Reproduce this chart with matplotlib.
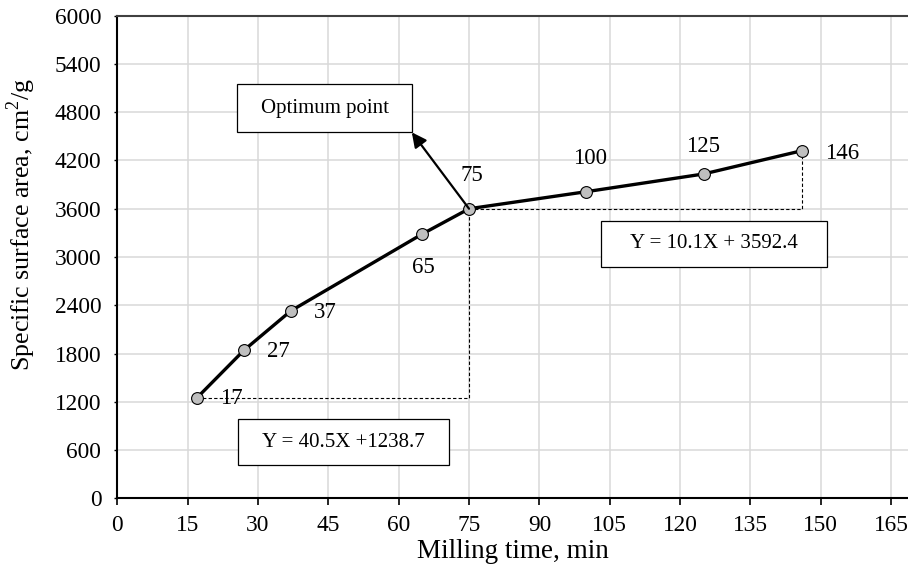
import matplotlib
matplotlib.use("Agg")
import matplotlib.pyplot as plt
from matplotlib.patches import Rectangle

plt.rcParams['font.family'] = ['Liberation Serif', 'DejaVu Serif']

# Data
milling_time = [17, 27, 37, 65, 75, 100, 125, 146]
surface_area = [1250, 1840, 2330, 3285, 3600, 3812, 4032, 4322]
point_labels = ["17", "27", "37", "65", "75", "100", "125", "146"]
label_pos = [(24.4, 1235), (34.3, 1823), (44.3, 2305), (65.2, 2868),
             (75.6, 4012), (100.8, 4229), (125.0, 4373), (154.5, 4291)]

x_ticks = list(range(0, 166, 15))
y_ticks = list(range(0, 6001, 600))

eq1_text = "Y = 40.5X +1238.7"
eq2_text = "Y = 10.1X + 3592.4"
opt_text = "Optimum point"

fig = plt.figure(figsize=(9.08, 5.74), dpi=100)
ax = fig.add_axes([117.3 / 908, 1 - 498.3 / 574, 1 - 117.3 / 908, (498.3 - 15.7) / 574])

ax.set_xlim(0, 168.6)
ax.set_ylim(0, 6000)
ax.set_xticks(x_ticks)
ax.set_yticks(y_ticks)
ax.grid(True, color='#d9d9d9', linewidth=1.1, zorder=0)
ax.set_axisbelow(True)

for s in ['left', 'bottom']:
    ax.spines[s].set_color('black')
    ax.spines[s].set_linewidth(1.5)
ax.spines['right'].set_visible(False)
ax.spines['top'].set_color('#404040')
ax.spines['top'].set_linewidth(1.5)

ax.tick_params(axis='both', direction='out', labelsize=16.8)
ax.tick_params(axis='x', length=5, width=1.2, pad=7)
ax.tick_params(axis='y', length=2.5, width=1.0, pad=9)

# dashed guide lines
opt_i = milling_time.index(75)
ax.plot([milling_time[0], milling_time[opt_i], milling_time[opt_i]],
        [surface_area[0], surface_area[0], surface_area[opt_i]],
        color='black', linestyle=(0, (3, 2)), linewidth=0.8, zorder=2)
ax.plot([milling_time[opt_i], milling_time[-1], milling_time[-1]],
        [surface_area[opt_i], surface_area[opt_i], surface_area[-1]],
        color='black', linestyle=(0, (3, 2)), linewidth=0.8, zorder=2)

ax.plot(milling_time, surface_area, color='black', linewidth=2.4, marker='o',
        markersize=8.5, markerfacecolor='#bfbfbf', markeredgecolor='black',
        markeredgewidth=0.8, zorder=3)

for lab, (lx, ly) in zip(point_labels, label_pos):
    ax.text(lx, ly, lab, fontsize=16.5, ha='center', va='center', zorder=4)

# boxes
def box(x0, x1, y0, y1, text, fs):
    ax.add_patch(Rectangle((x0, y0), x1 - x0, y1 - y0, facecolor='white',
                           edgecolor='black', linewidth=0.9, zorder=5))
    ax.text((x0 + x1) / 2, (y0 + y1) / 2, text, fontsize=fs, ha='center',
            va='center', zorder=6)

box(25.6, 62.8, 4550, 5151, opt_text, 15)
box(103.1, 151.3, 2876, 3451, eq2_text, 15)
box(25.8, 70.8, 414, 982, eq1_text, 15)

ax.annotate('', xy=(62.8, 4550), xytext=(milling_time[opt_i], surface_area[opt_i]),
            arrowprops=dict(arrowstyle='-|>', color='black', lw=1.6,
                            mutation_scale=22, shrinkA=0, shrinkB=0), zorder=6)

ax.set_xlabel("Milling time, min", fontsize=19.5, labelpad=2)
ax.set_ylabel(r"Specific surface area, cm$^{\mathregular{2}}$/g", fontsize=18.7)
ax.yaxis.set_label_coords((38 - 117.3) / (908 - 117.3), (498.3 - 224) / 482.6)

fig.savefig("out.png", dpi=100)
